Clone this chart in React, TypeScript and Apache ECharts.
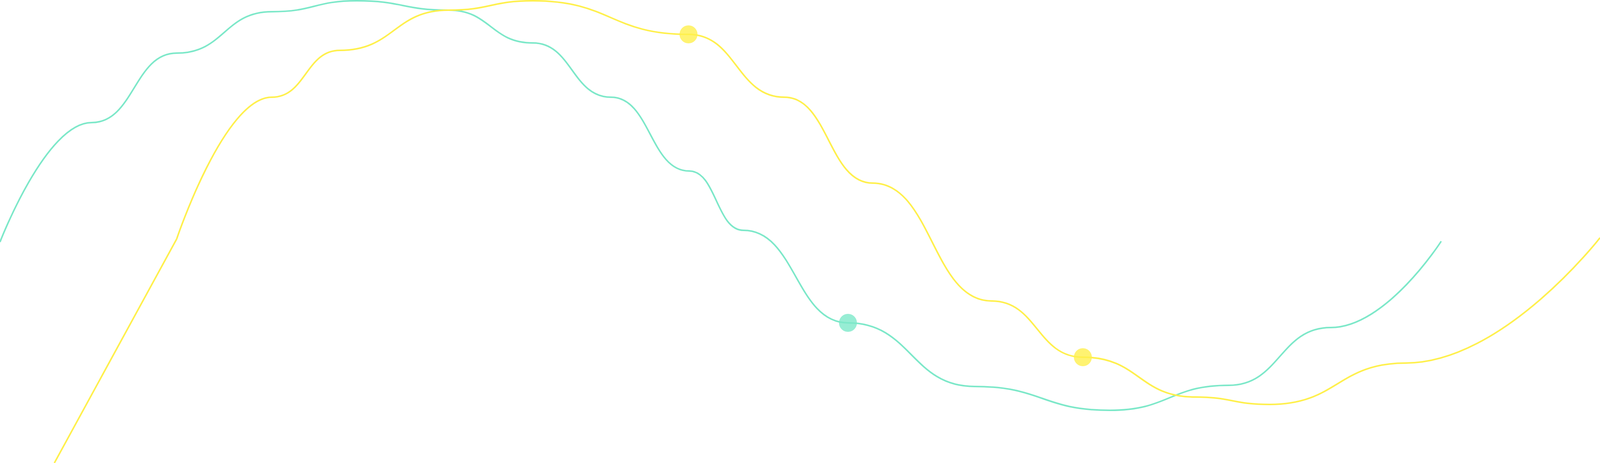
import React, { useEffect, useRef } from "react";
import * as echarts from "echarts";

const W = 7506;
const H = 1186;

// cyan wave [x, y] in picture pixels (y downward)
const cyanWave = [
  [0, 620], [430, 314], [829, 136], [1275, 30], [1674, 2], [2104, 26],
  [2500, 110], [2867, 249], [3233, 438], [3488, 590],
  [3978, 827], [4572, 990], [5207, 1051],
  [5765, 987], [6243, 839], [6761, 618],
];
// yellow wave: straight lead-in, then curve
const yellowLead = [[255, 1186], [829, 612]];
const yellowWave = [
  [829, 612], [1275, 249], [1594, 129], [2104, 26], [2500, 2],
  [3230, 88], [3680, 249], [4094, 469], [4652, 771],
  [5080, 915], [5606, 1017], [5956, 1036], [6594, 930],
  [7506, 609],
];
const cyanDots = [[3978, 827]];
const yellowDots = [[3230, 88], [5080, 915]];

const CYAN = "#7de8c9";
const YELLOW = "#fff04d";

const App: React.FC = () => {
  const chartRef = useRef<HTMLDivElement>(null);

  useEffect(() => {
    document.body.style.margin = "0";
    document.body.style.overflow = "hidden";
    if (!chartRef.current) return;
    const chart = echarts.init(chartRef.current, undefined, { renderer: "svg" });
    chart.setOption({
      animation: false,
      grid: { left: 0, right: 0, top: 0, bottom: 0 },
      xAxis: { type: "value", min: 0, max: W, show: false },
      yAxis: { type: "value", min: 0, max: H, inverse: true, show: false },
      series: [
        {
          type: "line", data: cyanWave, smooth: 0.5, smoothMonotone: "x",
          showSymbol: false, lineStyle: { color: CYAN, width: 4 },
        },
        {
          type: "line", data: yellowLead, showSymbol: false,
          lineStyle: { color: YELLOW, width: 4 },
        },
        {
          type: "line", data: yellowWave, smooth: 0.5, smoothMonotone: "x",
          showSymbol: false, lineStyle: { color: YELLOW, width: 4 },
        },
        {
          type: "scatter", data: cyanDots, symbolSize: 46,
          itemStyle: { color: CYAN },
        },
        {
          type: "scatter", data: yellowDots, symbolSize: 46,
          itemStyle: { color: YELLOW },
        },
      ],
    });
    return () => {
      chart.dispose();
    };
  }, []);

  return <div ref={chartRef} style={{ width: "100vw", height: "100vh", background: "#fff" }} />;
};

export default App;
